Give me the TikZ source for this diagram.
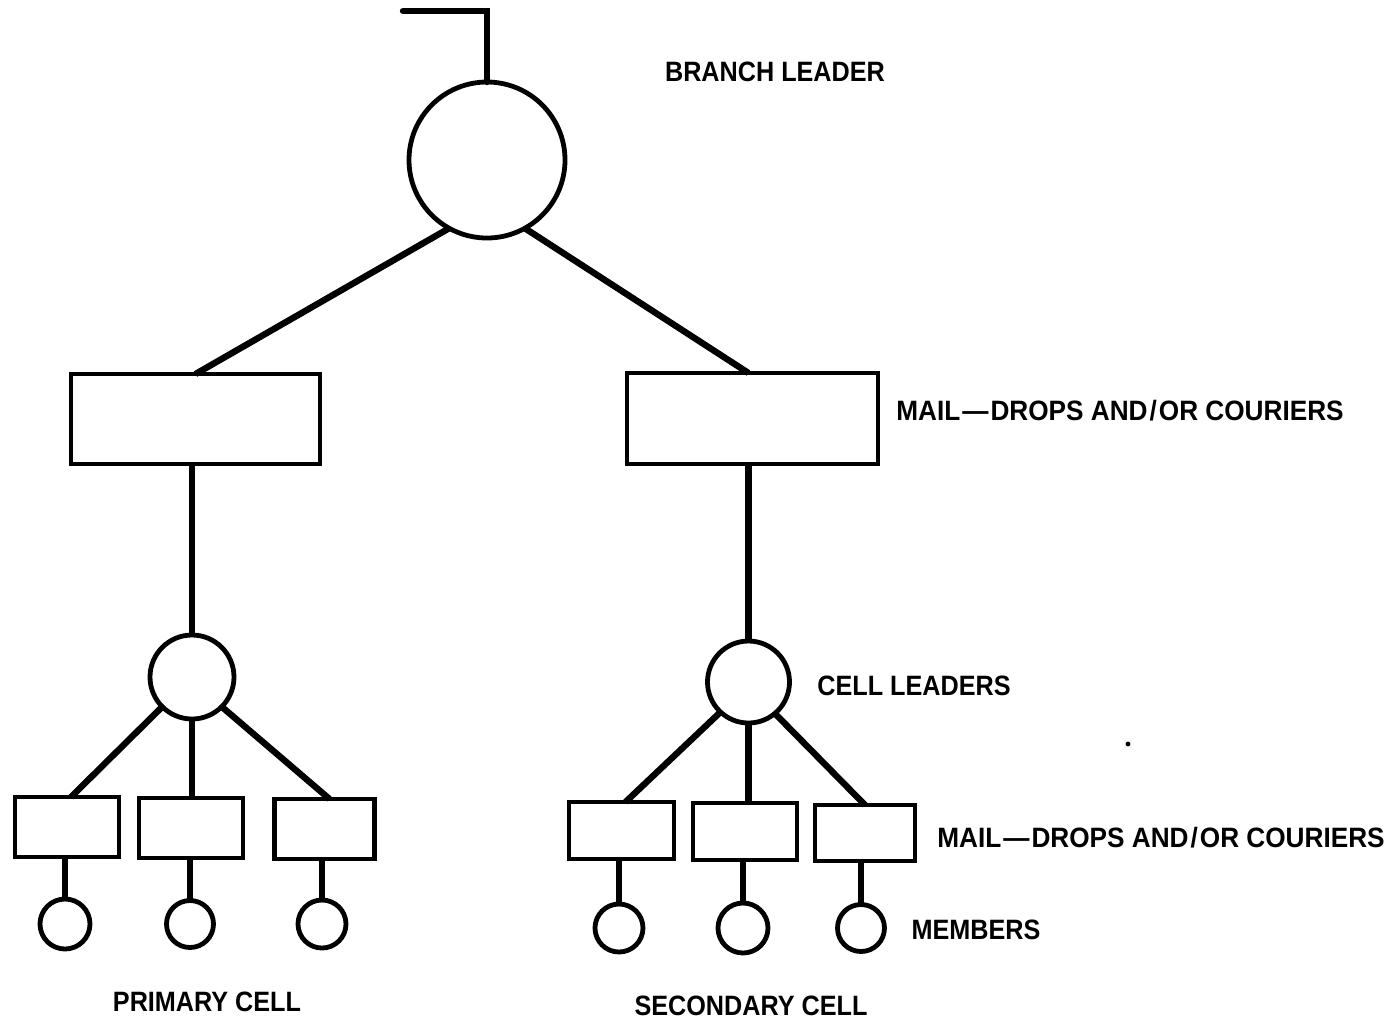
\documentclass[tikz,border=0pt]{standalone}
\usepackage{fontspec}
\setmainfont[FakeStretch=0.9]{Liberation Sans}
\newfontfamily\mailfont[FakeStretch=0.935]{Liberation Sans}
\newcommand{\mdash}{\kern1pt—\kern1pt}
\newcommand{\mslash}{\kern1pt/\kern1pt}
\begin{document}
\begin{tikzpicture}[x=0.5pt,y=-0.5pt,
  shp/.style={draw,line width=2.4pt,inner sep=0pt,outer sep=0pt},
  circ/.style={shp,circle,minimum size=#1},
  boxn/.style={shp,rectangle,minimum width=#1},
  conn/.style={line width=3.2pt},
  lbl/.style={font=\fontsize{14pt}{16pt}\selectfont\bfseries,inner sep=0pt},
  mlbl/.style={font=\fontsize{14pt}{16pt}\mailfont\bfseries,inner sep=0pt}]
\useasboundingbox (0,0) rectangle (1397,1025);
% top
\node[circ=156pt*0.5] (big) at (487,160) {};
\coordinate (tl) at (403,11);
\coordinate (tc) at (487,11);
\draw[conn,line cap=round] (tl) -- (tc) -- (big.north);
% mail-drop boxes
\node[boxn=249*0.5pt,minimum height=90*0.5pt] (lbox) at (195.5,419) {};
\node[boxn=251*0.5pt,minimum height=91*0.5pt] (rbox) at (752.5,418.5) {};
\draw[conn] (big.241) -- (lbox.north);
\draw[conn] (big.299) -- ([xshift=-2pt]rbox.north);
% cell leaders
\node[circ=42pt] (lcl) at (192,677) {};
\node[circ=41pt] (rcl) at (748.5,682) {};
\draw[conn] (lbox.south -| lcl) -- (lcl.north);
\draw[conn] (rbox.south -| rcl) -- (rcl.north);
% left small boxes
\node[boxn=52pt,minimum height=30pt] (lb1) at (67,827) {};
\node[boxn=52pt,minimum height=30pt] (lb2) at (191,828) {};
\node[boxn=50pt,minimum height=30pt] (lb3) at (324.5,829) {};
\draw[conn] (lcl.225) -- ([xshift=2pt]lb1.north);
\draw[conn] (lcl.south) -- (lcl.south |- lb2.north);
\draw[conn] (lcl.315) -- ([xshift=2.5pt]lb3.north);
% right small boxes
\node[boxn=52.5pt,minimum height=28.5pt] (rb1) at (621.5,830.5) {};
\node[boxn=52pt,minimum height=28.5pt] (rb2) at (745,831.5) {};
\node[boxn=50pt,minimum height=28pt] (rb3) at (865,833) {};
\draw[conn] (rcl.227) -- ([xshift=2pt]rb1.north);
\draw[conn] (rcl.south) -- (rcl.south |- rb2.north);
\draw[conn] (rcl.310) -- (rb3.north);
% members
\node[circ=25pt] (lm1) at (65,924) {};
\node[circ=23.5pt] (lm2) at (190,924) {};
\node[circ=24pt] (lm3) at (322,924) {};
\node[circ=24pt] (rm1) at (619,928) {};
\node[circ=25pt] (rm2) at (743,928) {};
\node[circ=23.5pt] (rm3) at (861,928) {};
\draw[conn] (lb1.south -| lm1) -- (lm1.north);
\draw[conn] (lb2.south -| lm2) -- (lm2.north);
\draw[conn] (lb3.south -| lm3) -- (lm3.north);
\draw[conn] (rb1.south -| rm1) -- (rm1.north);
\draw[conn] (rb2.south -| rm2) -- (rm2.north);
\draw[conn] (rb3.south -| rm3) -- (rm3.north);
% labels
\node[lbl] (t1) at (775,72) {BRANCH LEADER};
\node[mlbl] (t2) at (1120,411) {MAIL\mdash DROPS AND\mslash OR COURIERS};
\node[lbl] (t3) at (914,686) {CELL LEADERS};
\node[mlbl] (t4) at (1161,838) {MAIL\mdash DROPS AND\mslash OR COURIERS};
\node[lbl] (t5) at (976,930) {MEMBERS};
\node[lbl] (t6) at (207,1002) {PRIMARY CELL};
\node[lbl] (t7) at (751,1006) {SECONDARY CELL};
\fill (1128,744) circle (1.2pt);
\end{tikzpicture}
\end{document}
